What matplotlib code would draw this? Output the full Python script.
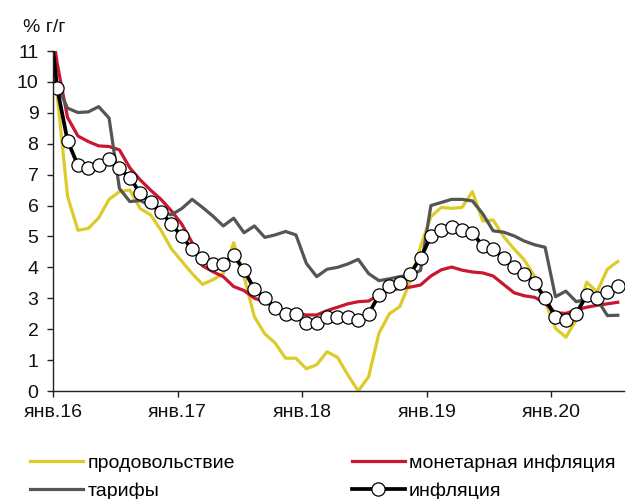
import matplotlib
matplotlib.use("Agg")
import matplotlib.pyplot as plt
import numpy as np

plt.rcParams['font.family'] = ['Liberation Sans', 'DejaVu Sans']

# Monthly data: Dec 2015 .. Jul 2020 (y/y, %)
food = [14.0,
        9.6, 6.3, 5.2, 5.26, 5.6, 6.2, 6.45, 6.5, 5.9, 5.7, 5.2, 4.6,
        4.2, 3.8, 3.45, 3.6, 3.8, 4.8, 3.7, 2.4, 1.85, 1.55, 1.06, 1.06,
        0.72, 0.85, 1.27, 1.09, 0.52, 0.0, 0.46, 1.87, 2.5, 2.73, 3.54, 4.67,
        5.64, 5.94, 5.91, 5.94, 6.45, 5.5, 5.53, 5.0, 4.6, 4.24, 3.7, 2.9,
        2.03, 1.74, 2.3, 3.52, 3.21, 3.94, 4.19]
monetary = [13.0,
            10.6, 8.85, 8.25, 8.07, 7.93, 7.91, 7.8, 7.22, 6.83, 6.5, 6.2, 5.83,
            5.4, 4.8, 4.05, 3.86, 3.7, 3.38, 3.25, 3.0, 2.89, 2.7, 2.55, 2.51,
            2.46, 2.46, 2.6, 2.71, 2.82, 2.89, 2.91, 3.11, 3.25, 3.32, 3.36, 3.43,
            3.72, 3.92, 4.01, 3.91, 3.85, 3.82, 3.72, 3.45, 3.18, 3.08, 3.03, 2.84,
            2.53, 2.51, 2.62, 2.71, 2.77, 2.82, 2.87]
tariffs = [10.2,
           9.9, 9.15, 9.01, 9.03, 9.2, 8.83, 6.55, 6.13, 6.16, 6.0, 5.8, 5.7,
           5.9, 6.2, 5.94, 5.66, 5.34, 5.59, 5.12, 5.34, 4.97, 5.05, 5.16, 5.05,
           4.13, 3.7, 3.94, 4.0, 4.11, 4.26, 3.8, 3.57, 3.63, 3.7, 3.75, 3.9,
           6.0, 6.1, 6.2, 6.2, 6.15, 5.73, 5.18, 5.14, 5.02, 4.85, 4.73, 4.65,
           3.05, 3.23, 2.89, 2.97, 2.97, 2.44, 2.45]
inflation = [12.9,
             9.8, 8.1, 7.3, 7.2, 7.3, 7.5, 7.2, 6.9, 6.4, 6.1, 5.8, 5.4,
             5.0, 4.6, 4.3, 4.1, 4.1, 4.4, 3.9, 3.3, 3.0, 2.7, 2.5, 2.5,
             2.2, 2.2, 2.4, 2.4, 2.4, 2.3, 2.5, 3.1, 3.4, 3.5, 3.8, 4.3,
             5.0, 5.2, 5.3, 5.2, 5.1, 4.7, 4.6, 4.3, 4.0, 3.8, 3.5, 3.0,
             2.4, 2.3, 2.5, 3.1, 3.0, 3.2, 3.4]

tick_labels = ['янв.16', 'янв.17', 'янв.18', 'янв.19', 'янв.20']
series_names = ['продовольствие', 'монетарная инфляция', 'тарифы', 'инфляция']

# month index: Jan 2016 tick at 0, observations placed slightly after month start
x = np.arange(len(inflation)) - 1 + 0.4

fig = plt.figure(figsize=(6.35, 4.99), dpi=100)
ax = fig.add_axes([53/635, 1-391/499, (624-53)/635, (391-51)/499])

c_food = '#DDCB2A'
c_mon = '#C8172F'
c_tar = '#555555'

lw = 2.3
l1, = ax.plot(x, food, color=c_food, lw=lw)
l2, = ax.plot(x, monetary, color=c_mon, lw=lw)
l3, = ax.plot(x, tariffs, color=c_tar, lw=lw)
l4, = ax.plot(x, inflation, color='black', lw=2.7, marker='o', markersize=9.5,
              markerfacecolor='white', markeredgecolor='black', markeredgewidth=0.9)

ax.set_xlim(0, 55)
ax.set_ylim(0, 11)
ax.set_yticks(range(0, 12))
ax.set_xticks([0, 12, 24, 36, 48])
ax.set_xticklabels(tick_labels)

for s in ['top', 'right']:
    ax.spines[s].set_visible(False)
for s in ['left', 'bottom']:
    ax.spines[s].set_color('#222222')
    ax.spines[s].set_linewidth(1.0)
ax.tick_params(axis='both', direction='out', length=4.5, width=1.0, color='#222222',
               labelsize=14, labelcolor='#111111')
ax.tick_params(axis='y', pad=6)
ax.tick_params(axis='x', pad=5)

fig.text(23/635, 1-28/499, '% г/г', fontsize=14, ha='left', va='center', color='#111111')

leg = fig.legend([l1, l3, l2, l4],
                 [series_names[0], series_names[2], series_names[1], series_names[3]],
                 ncol=2, loc='upper left', bbox_to_anchor=(30/635, 1-454/499),
                 frameon=False, fontsize=14, handlelength=2.75, handletextpad=0.2,
                 columnspacing=6.0, labelspacing=0.55, borderpad=0, borderaxespad=0)

fig.savefig('out.png', dpi=100)
